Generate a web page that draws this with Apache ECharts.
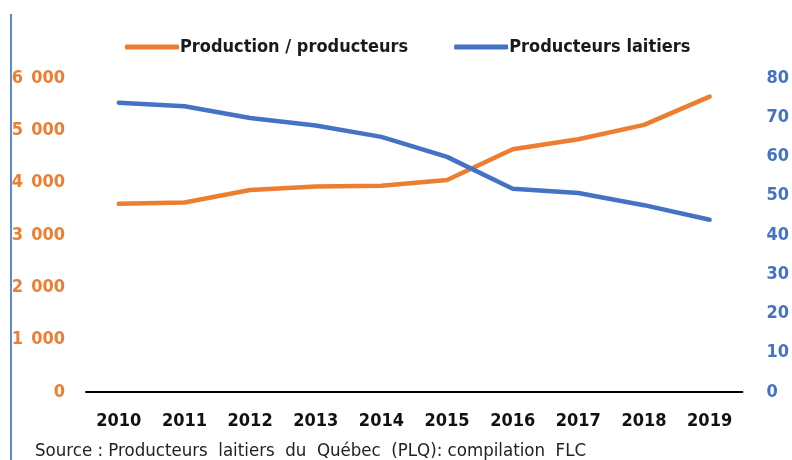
<!DOCTYPE html>
<html>
<head>
<meta charset="utf-8">
<script src="https://cdn.jsdelivr.net/npm/echarts@6/dist/echarts.min.js"></script>
<style>
    html, body { margin: 0; padding: 0; background: #fff; }
    #Chart1 { width: 792px; height: 460px; }
</style>
</head>
<body>
<div id="Chart1"></div>
<script>
// données
const years = ['2010', '2011', '2012', '2013', '2014', '2015', '2016', '2017', '2018', '2019'];
const productionParProducteur = [3595, 3620, 3860, 3925, 3940, 4050, 4640, 4830, 5105, 5645];
const producteursLaitiers = [73.7, 72.8, 69.8, 67.9, 65.0, 59.9, 51.8, 50.7, 47.6, 43.9];
const leftTicks = [0, 1000, 2000, 3000, 4000, 5000, 6000];
const rightTicks = [0, 10, 20, 30, 40, 50, 60, 70, 80];

const ORANGE = '#ED7D31';
const BLUE = '#4472C4';
const NARROW = '"Liberation Sans Narrow", "Arial Narrow", "DejaVu Sans Condensed", sans-serif';

const myChart1 = echarts.init(document.getElementById('Chart1'));
myChart1.setOption({
    animation: false,
    textStyle: { fontFamily: NARROW },
    grid: {
        top: 78,
        left: 86,
        right: 46,
        bottom: 68,
        containLabel: false,
    },
    legend: {
        top: 33,
        left: 120,
        itemWidth: 54,
        itemHeight: 5,
        itemGap: 46,
        icon: 'roundRect',
        textStyle: {
            fontFamily: NARROW,
            fontWeight: 'bold',
            fontSize: 18,
            color: '#1a1a1a',
            padding: [0, 0, 0, -4],
        },
        data: ['Production / producteurs', 'Producteurs laitiers'],
    },
    xAxis: {
        type: 'category',
        data: years,
        boundaryGap: true,
        axisLine: { show: true, lineStyle: { color: '#000', width: 2 } },
        axisTick: { show: false },
        splitLine: { show: false },
        axisLabel: {
            color: '#111',
            fontSize: 18,
            fontWeight: 'bold',
            fontFamily: NARROW,
            interval: 0,
            margin: 20,
        },
    },
    yAxis: [
        {
            type: 'value',
            min: leftTicks[0],
            max: leftTicks[leftTicks.length - 1],
            interval: 1000,
            axisLine: { show: false },
            axisTick: { show: false },
            splitLine: { show: false },
            axisLabel: {
                color: ORANGE,
                fontSize: 18,
                fontWeight: 'bold',
                fontFamily: NARROW,
                margin: 21,
                formatter: function (v) {
                    if (v === 0) return '0';
                    return Math.floor(v / 1000) + '\u2002' + String(v % 1000).padStart(3, '0');
                },
            },
        },
        {
            type: 'value',
            min: rightTicks[0],
            max: rightTicks[rightTicks.length - 1],
            interval: 10,
            axisLine: { show: false },
            axisTick: { show: false },
            splitLine: { show: false },
            axisLabel: {
                color: BLUE,
                fontSize: 18,
                fontWeight: 'bold',
                fontFamily: NARROW,
                margin: 24,
            },
        },
    ],
    series: [
        {
            name: 'Production / producteurs',
            type: 'line',
            yAxisIndex: 0,
            data: productionParProducteur,
            symbol: 'none',
            lineStyle: { color: ORANGE, width: 4.5, cap: 'round', join: 'round' },
            itemStyle: { color: ORANGE },
        },
        {
            name: 'Producteurs laitiers',
            type: 'line',
            yAxisIndex: 1,
            data: producteursLaitiers,
            symbol: 'none',
            lineStyle: { color: BLUE, width: 4.5, cap: 'round', join: 'round' },
            itemStyle: { color: BLUE },
        },
    ],
    graphic: [
        {
            type: 'line',
            shape: { x1: 11, y1: 14, x2: 11, y2: 460 },
            style: { stroke: '#5B8BD6', lineWidth: 2 },
        },
        {
            type: 'text',
            left: 35,
            top: 442,
            style: {
                text: 'Source : Producteurs  laitiers  du  Québec  (PLQ): compilation  FLC',
                fill: '#222',
                font: '18.5px ' + NARROW,
            },
        },
    ],
});
</script>
</body>
</html>
